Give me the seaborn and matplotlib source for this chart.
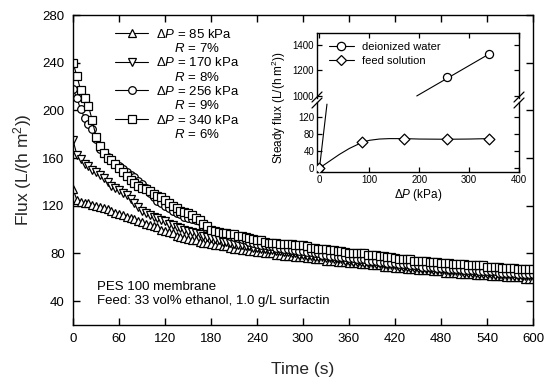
import numpy as np
import pandas as pd
import matplotlib
matplotlib.use("Agg")
import matplotlib.pyplot as plt
from matplotlib.lines import Line2D
import seaborn as sns

# ---- data ----
time_s = list(range(0, 601, 5))

flux_85 = [134, 125, 123, 122, 122, 121, 120, 119, 118, 117, 116, 114,
           113, 112, 111, 110, 109, 107, 106, 105, 104, 103, 102, 100,
           99, 98, 97, 95, 94, 93, 92, 91, 91, 90, 89, 89,
           88, 87, 87, 86, 86, 85, 84, 84, 83, 83, 82, 82,
           81, 81, 80, 80, 80, 79, 79, 78, 78, 78, 77, 77,
           77, 76, 76, 75, 75, 75, 74, 74, 74, 73, 73, 73,
           72, 72, 72, 71, 71, 71, 70, 70, 70, 69, 69, 69,
           68, 68, 68, 67, 67, 67, 66, 66, 66, 66, 65, 65,
           65, 64, 64, 64, 64, 63, 63, 63, 63, 62, 62, 62,
           62, 61, 61, 61, 61, 60, 60, 60, 60, 60, 59, 59,
           59]
flux_170 = [175, 163, 159, 155, 153, 150, 148, 146, 143, 140, 137, 135,
            133, 131, 129, 126, 122, 119, 116, 114, 112, 111, 110, 108,
            107, 105, 104, 102, 101, 100, 99, 98, 97, 96, 95, 94,
            93, 92, 91, 90, 90, 89, 88, 87, 87, 86, 86, 85,
            85, 84, 84, 83, 83, 82, 82, 81, 81, 80, 80, 79,
            79, 78, 78, 77, 77, 77, 76, 76, 75, 75, 75, 74,
            74, 73, 73, 73, 72, 72, 72, 71, 71, 71, 70, 70,
            70, 69, 69, 69, 68, 68, 68, 67, 67, 67, 66, 66,
            66, 66, 65, 65, 65, 65, 64, 64, 64, 64, 63, 63,
            63, 63, 62, 62, 62, 62, 62, 61, 61, 61, 61, 61,
            61]
flux_256 = [218, 210, 201, 194, 189, 184, 176, 168, 164, 161, 158, 155,
            153, 151, 148, 146, 144, 141, 138, 135, 131, 127, 124, 122,
            120, 118, 116, 114, 113, 111, 110, 109, 108, 107, 104, 102,
            100, 99, 98, 97, 96, 95, 94, 93, 92, 91, 90, 89,
            88, 87, 87, 86, 86, 85, 85, 84, 84, 83, 83, 82,
            82, 81, 81, 80, 80, 79, 79, 78, 78, 77, 77, 77,
            76, 76, 75, 75, 75, 74, 74, 74, 73, 73, 72, 72,
            72, 71, 71, 71, 70, 70, 70, 69, 69, 69, 69, 68,
            68, 68, 67, 67, 67, 67, 66, 66, 66, 66, 65, 65,
            65, 65, 65, 64, 64, 64, 64, 64, 63, 63, 63, 63,
            63]
flux_340 = [240, 229, 217, 210, 204, 192, 178, 170, 164, 160, 158, 155,
            152, 148, 145, 142, 139, 137, 135, 134, 132, 130, 128, 127,
            125, 122, 120, 118, 116, 115, 114, 112, 110, 108, 105, 103,
            100, 99, 98, 97, 97, 96, 96, 95, 95, 94, 93, 92,
            91, 91, 90, 89, 89, 89, 88, 88, 88, 88, 87, 87,
            87, 86, 85, 85, 84, 84, 84, 83, 83, 82, 82, 81,
            80, 80, 80, 80, 80, 79, 79, 79, 78, 78, 77, 77,
            76, 75, 75, 75, 75, 74, 74, 74, 74, 73, 73, 73,
            72, 72, 72, 71, 71, 71, 71, 70, 70, 70, 70, 70,
            69, 69, 69, 69, 68, 68, 68, 68, 67, 67, 67, 67,
            67]

pressures = ["85", "170", "256", "340"]
rejections = ["7%", "8%", "9%", "6%"]
markers = ["^", "v", "o", "s"]

# inset: steady flux vs pressure
di_dp = [0, 256, 340]
di_flux = [0, 1145, 1329]
di_fit_lo_dp = [0, 15]
di_fit_lo_flux = [0, 150]
di_fit_hi_dp = [195, 340]
di_fit_hi_flux = [1000, 1329]
feed_dp = [0, 85, 170, 256, 340]
feed_flux = [0, 60, 69, 67.5, 69]
feed_fit_dp = [0, 20, 40, 60, 85, 100, 120, 140, 170, 200, 256, 300, 340]
feed_fit_flux = [0, 16, 32, 46, 60, 65, 68, 69, 69, 68, 67.5, 68, 69]

sns.set_theme(style="ticks")
plt.rcParams.update({
    "font.family": ["Liberation Sans", "DejaVu Sans"],
    "mathtext.fontset": "custom",
    "mathtext.rm": "Liberation Sans",
    "mathtext.it": "Liberation Sans:italic",
    "mathtext.bf": "Liberation Sans:bold",
    "axes.edgecolor": "black",
    "axes.linewidth": 1.0,
    "xtick.direction": "in",
    "ytick.direction": "in",
    "xtick.color": "black",
    "ytick.color": "black",
    "text.color": "black",
})

W, H = 550, 380
fig = plt.figure(figsize=(5.5, 3.8), dpi=100)

def box(l, t, r, b):
    return [l / W, 1 - b / H, (r - l) / W, (b - t) / H]

# ============================ main plot ============================
ax = fig.add_axes(box(73, 15, 533, 325))
series = [flux_85, flux_170, flux_256, flux_340]
for vals, mk in zip(series, markers):
    sns.lineplot(x=time_s, y=vals, ax=ax, color="black", linewidth=0.8,
                 marker=mk, markersize=5.5, markerfacecolor="white",
                 markeredgecolor="black", markeredgewidth=0.9, legend=False)

ax.set_xlim(0, 600)
ax.set_ylim(20, 280)
ax.set_xticks(np.arange(0, 601, 60))
ax.set_yticks(np.arange(40, 281, 40))
ax.tick_params(which="both", top=True, right=True, length=5, width=1.0,
               labelsize=9.5, pad=6)
ax.set_xlabel("Time (s)", fontsize=12.5, labelpad=12)
ax.set_ylabel("Flux (L/(h m$^2$))", fontsize=12.5, labelpad=6)

handles, labels = [], []
for p, r, mk in zip(pressures, rejections, markers):
    handles.append(Line2D([], [], color="black", lw=0.8, marker=mk, ms=5.5,
                          mfc="white", mec="black", mew=0.9))
    labels.append(r"$\Delta P$ = " + p + " kPa")
    handles.append(Line2D([], [], linestyle="none"))
    labels.append(r"     $R$ = " + r)
ax.legend(handles, labels, loc="upper left", bbox_to_anchor=(0.078, 0.98),
          frameon=False, fontsize=9.5, borderpad=0, handlelength=2.5,
          handletextpad=0.6, labelspacing=0.1)

ax.text(0.052, 0.1, "PES 100 membrane\nFeed: 33 vol% ethanol, 1.0 g/L surfactin",
        transform=ax.transAxes, fontsize=9.5, va="center", ha="left",
        linespacing=1.25)

# ============================ inset (broken y axis) ============================
ax_hi = fig.add_axes(box(317, 33, 519, 98))
ax_lo = fig.add_axes(box(317, 102, 519, 172))

for a in (ax_hi, ax_lo):
    sns.lineplot(x=feed_fit_dp, y=feed_fit_flux, ax=a, color="black",
                 linewidth=0.8, legend=False)
    sns.lineplot(x=di_fit_lo_dp, y=di_fit_lo_flux, ax=a, color="black",
                 linewidth=0.8, legend=False)
    sns.lineplot(x=di_fit_hi_dp, y=di_fit_hi_flux, ax=a, color="black",
                 linewidth=0.8, legend=False)
    sns.scatterplot(x=di_dp, y=di_flux, ax=a, marker="o", s=34,
                    facecolor="white", edgecolor="black", linewidth=0.9,
                    zorder=3, legend=False)
    sns.scatterplot(x=feed_dp, y=feed_flux, ax=a, marker="D", s=30,
                    facecolor="white", edgecolor="black", linewidth=0.9,
                    zorder=4, legend=False)
    a.set_xlim(-5, 400)
    a.set_xticks(np.arange(0, 401, 100))
    a.set_xlabel("")
    a.set_ylabel("")
    a.tick_params(which="both", top=True, right=True, length=3.5, width=0.9,
                  labelsize=7, pad=2)

ax_hi.set_ylim(984, 1494)
ax_hi.set_yticks([1000, 1200, 1400])
ax_hi.spines["bottom"].set_visible(False)
ax_hi.tick_params(bottom=False, labelbottom=False)

ax_lo.set_ylim(-9.4, 155)
ax_lo.set_yticks([0, 40, 80, 120])
ax_lo.spines["top"].set_visible(False)
ax_lo.tick_params(top=False)

# break marks
for xb in (317, 519):
    for yb in (97, 103):
        fig.add_artist(Line2D([(xb - 5) / W, (xb + 5) / W],
                              [1 - (yb + 5) / H, 1 - (yb - 5) / H],
                              color="black", lw=0.9))

inset_handles = [
    Line2D([], [], color="black", lw=0.8, marker="o", ms=6, mfc="white",
           mec="black", mew=0.9),
    Line2D([], [], color="black", lw=0.8, marker="D", ms=5.5, mfc="white",
           mec="black", mew=0.9),
]
ax_hi.legend(inset_handles, ["deionized water", "feed solution"],
             loc="upper left", bbox_to_anchor=(0.03, 0.95), frameon=False,
             fontsize=8, borderpad=0, handlelength=2.3, handletextpad=0.7,
             labelspacing=0.4)

fig.text(279 / W, 1 - 108 / H, "Steady flux (L/(h m$^2$))", rotation=90,
         ha="center", va="center", fontsize=8.5)
fig.text(418 / W, 1 - 195 / H, r"$\Delta P$ (kPa)", ha="center",
         va="center", fontsize=8.5)

fig.savefig("out.png", dpi=100)
